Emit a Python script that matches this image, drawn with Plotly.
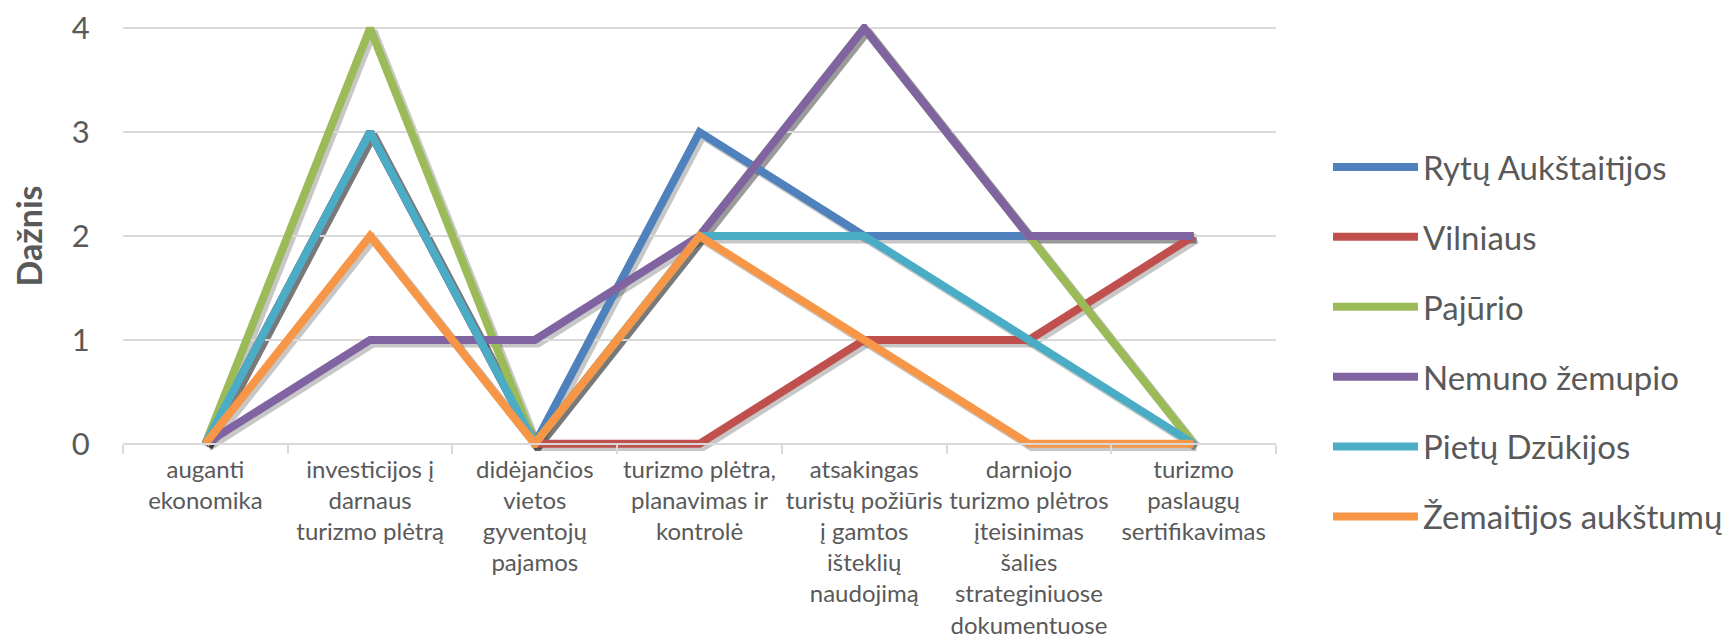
import plotly.graph_objects as go

categories = [
    "auganti<br>ekonomika",
    "investicijos į<br>darnaus<br>turizmo plėtrą",
    "didėjančios<br>vietos<br>gyventojų<br>pajamos",
    "turizmo plėtra,<br>planavimas ir<br>kontrolė",
    "atsakingas<br>turistų požiūris<br>į gamtos<br>išteklių<br>naudojimą",
    "darniojo<br>turizmo plėtros<br>įteisinimas<br>šalies<br>strateginiuose<br>dokumentuose",
    "turizmo<br>paslaugų<br>sertifikavimas",
]

rytu_aukstaitijos = [0, 3, 0, 3, 2, 2, 2]
vilniaus = [0, 3, 0, 0, 1, 1, 2]
pajurio = [0, 4, 0, 2, 4, 2, 0]
nemuno_zemupio = [0, 1, 1, 2, 4, 2, 2]
pietu_dzukijos = [0, 3, 0, 2, 2, 1, 0]
zemaitijos_aukstumu = [0, 2, 0, 2, 1, 0, 0]

series = [
    ("Rytų Aukštaitijos", rytu_aukstaitijos, "#4F81BD"),
    ("Vilniaus", vilniaus, "#C0504D"),
    ("Pajūrio", pajurio, "#9BBB59"),
    ("Nemuno žemupio", nemuno_zemupio, "#8064A2"),
    ("Pietų Dzūkijos", pietu_dzukijos, "#4BACC6"),
    ("Žemaitijos aukštumų", zemaitijos_aukstumu, "#F79646"),
]

y_ticks = [0, 1, 2, 3, 4]
pad = 0.04

W, H = 1731, 641
SH = 3  # drop-shadow offset in px
ML, MR, MT, MB = 115, 463 - SH, 16, 201 - SH
pw, ph = W - ML - MR, H - MT - MB
sdx, sdy = SH / pw, SH / ph

fig = go.Figure()
# soft drop shadows (drawn first, in an offset invisible subplot)
for name, vals, color in series:
    fig.add_trace(go.Scatter(
        x=categories, y=vals, mode="lines", showlegend=False, hoverinfo="skip",
        line=dict(color="rgba(0,0,0,0.22)", width=9),
        xaxis="x", yaxis="y",
    ))
# main lines
for i, (name, vals, color) in enumerate(series):
    fig.add_trace(go.Scatter(
        x=categories, y=vals, name=name, mode="lines",
        line=dict(color=color, width=8),
        legendgroup=f"g{i}",
        xaxis="x2", yaxis="y2",
    ))

font_family = "Lato, 'Open Sans', sans-serif"
grey = "#595959"

# legend placement in pixels -> paper fractions
leg_left_px, leg_top_px = 1320, 131
leg_x = (leg_left_px - ML) / pw
leg_y = (H - MB - leg_top_px) / ph

fig.update_layout(
    template="none",
    width=W, height=H,
    margin=dict(l=ML, r=MR, t=MT, b=MB, autoexpand=False),
    paper_bgcolor="white", plot_bgcolor="rgba(0,0,0,0)",
    font=dict(family=font_family, color=grey),
    showlegend=True,
    legend=dict(
        x=leg_x, y=leg_y, xanchor="left", yanchor="top",
        font=dict(size=33, color=grey, family=font_family),
        tracegroupgap=24, traceorder="grouped",
        itemwidth=85,
        bgcolor="rgba(0,0,0,0)", borderwidth=0,
    ),
    xaxis=dict(
        type="category", range=[-0.5, 6.5],
        domain=[sdx, 1], anchor="y",
        visible=False, showgrid=False, zeroline=False,
    ),
    yaxis=dict(
        range=[-pad, 4 + pad],
        domain=[0, 1 - sdy], anchor="x",
        visible=False, showgrid=False, zeroline=False,
    ),
    xaxis2=dict(
        type="category", range=[-0.5, 6.5],
        domain=[0, 1 - sdx],
        anchor="free",
        position=sdy + (1 - sdy) * pad / (4 + 2 * pad),
        showline=True, linecolor="#D9D9D9", linewidth=2,
        ticks="outside", tickson="boundaries", ticklen=9,
        tickcolor="#D9D9D9", tickwidth=2,
        showgrid=False, zeroline=False,
        tickfont=dict(size=24, color=grey),
        tickangle=0,
        ticklabelstandoff=4,
        automargin=False,
    ),
    yaxis2=dict(
        range=[-pad, 4 + pad],
        domain=[sdy, 1], anchor="x2",
        tickvals=y_ticks,
        showgrid=True, gridcolor="#D9D9D9", gridwidth=2,
        zeroline=False, showline=False,
        ticks="outside", ticklen=26, tickcolor="rgba(0,0,0,0)",
        tickfont=dict(size=31, color=grey),
        title=dict(text="<b>Dažnis</b>", font=dict(size=34, color=grey), standoff=18),
        automargin=True,
    ),
)

fig.write_html("out.html")
